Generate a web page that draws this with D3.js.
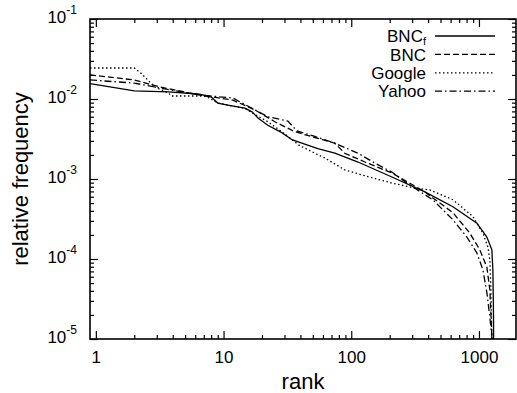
<!DOCTYPE html>
<html>
<head>
<meta charset="utf-8">
<script src="https://cdn.jsdelivr.net/npm/d3@7"></script>
<style>
  body { margin: 0; background: #fff; }
  svg { display: block; font-family: "Liberation Sans", Arial, sans-serif; }
</style>
</head>
<body>
<svg id="chart" width="517" height="393"></svg>
<script>
// [rank, relative frequency]
var bncF = [[0.9,0.0156],[2.0,0.0126],[3.7,0.0123],[6.3,0.01155],[7.95,0.0107],[9.0,0.0089],[10.8,0.0084],
  [14.7,0.0077],[16.7,0.0069],[18.6,0.0058],[22.2,0.0047],[28.6,0.0038],[34.3,0.0031],[41,0.0028],
  [54.7,0.0024],[74.4,0.0021],[113,0.00163],[208,0.00106],[377,0.00069],[625,0.00045],[964,0.00028],
  [1153,0.000188],[1262,0.00013],[1285,0.000073],[1300,0.00002],[1310,0.000001]];
var bnc = [[0.9,0.0200],[2.0,0.0173],[3.2,0.0141],[6.5,0.0112],[11.8,0.0097],[17.6,0.0073],[25.2,0.0052],
  [36.2,0.0039],[51.9,0.0033],[74.4,0.0028],[89,0.0021],[128,0.00163],[208,0.00119],[377,0.00069],
  [435,0.00058],[625,0.00038],[849,0.00021],[1016,0.00013],[1153,0.000079],[1217,0.000041],
  [1262,0.0000106],[1270,0.000001]];
var google = [[0.9,0.0244],[2.0,0.0244],[2.25,0.0211],[2.9,0.0141],[3.7,0.0119],[3.9,0.0109],[6.6,0.0109],
  [7.5,0.0106],[8.2,0.0097],[9.0,0.0089],[14.7,0.0076],[18.6,0.0061],[22.2,0.0052],[28.6,0.0039],
  [39.6,0.0026],[62,0.00183],[89,0.0013],[135,0.00107],[208,0.00089],[315,0.00077],[412,0.00073],
  [625,0.00055],[896,0.00034],[1074,0.00021],[1175,0.000141],[1217,0.000097],[1240,0.000041],
  [1262,0.0000106],[1270,0.000001]];
var yahoo = [[0.9,0.0173],[2.0,0.0158],[3.2,0.0137],[6.5,0.0112],[11.8,0.0103],[22.2,0.0060],[31.9,0.0053],
  [37.5,0.0040],[51.9,0.0034],[74.4,0.0028],[113,0.0021],[153,0.00158],[208,0.00122],[272,0.00089],
  [435,0.00055],[625,0.00031],[804,0.000188],[964,0.000119],[1074,0.000073],[1153,0.000038],
  [1217,0.0000188],[1262,0.0000106],[1270,0.000001]];

var seriesNames = ["BNC", "BNC", "Google", "Yahoo"];
var xMajor = [1, 10, 100, 1000];
var yMajor = [1e-5, 1e-4, 1e-3, 1e-2, 1e-1];

var svg = d3.select("#chart");
var margin = {left: 90, right: 1, top: 19, bottom: 54};
var W = 517 - margin.left - margin.right;
var H = 393 - margin.top - margin.bottom;

var x = d3.scaleLog().domain([0.9, 1950]).range([0, W]);
var y = d3.scaleLog().domain([1e-5, 1e-1]).range([H, 0]);

// minor ticks 2..9 in every decade
function minors(lo, hi) {
  var out = [];
  for (var e = lo; e < hi; e++) {
    for (var k = 2; k <= 9; k++) out.push(k * Math.pow(10, e));
  }
  return out;
}
var xMinor = minors(0, 4).filter(d => d < 1950);
var yMinor = minors(-5, -1);

var g = svg.append("g").attr("transform", "translate(" + margin.left + "," + margin.top + ")");

g.append("clipPath").attr("id", "clip")
  .append("rect").attr("width", W).attr("height", H);

// axes (ticks point inward, mirrored on all sides)
function styleAxis(sel) {
  sel.select(".domain").remove();
  sel.selectAll(".tick line").attr("stroke", "#000").attr("stroke-width", 1.2);
}

g.append("g").attr("transform", "translate(0," + H + ")")
  .call(d3.axisBottom(x).tickValues(xMinor).tickSize(-4).tickFormat(""))
  .call(styleAxis);
g.append("g")
  .call(d3.axisTop(x).tickValues(xMinor).tickSize(-4).tickFormat(""))
  .call(styleAxis);
g.append("g")
  .call(d3.axisTop(x).tickValues(xMajor).tickSize(-8).tickFormat(""))
  .call(styleAxis);
var xAx = g.append("g").attr("transform", "translate(0," + H + ")")
  .call(d3.axisBottom(x).tickValues(xMajor).tickSize(-8).tickPadding(12).tickFormat(d3.format("d")))
  .call(styleAxis);
xAx.selectAll("text").attr("font-size", 17).attr("fill", "#000")
  .attr("font-family", "Liberation Sans, Arial, sans-serif");

g.append("g")
  .call(d3.axisLeft(y).tickValues(yMinor).tickSize(-4).tickFormat(""))
  .call(styleAxis);
g.append("g").attr("transform", "translate(" + W + ",0)")
  .call(d3.axisRight(y).tickValues(yMinor).tickSize(-4).tickFormat(""))
  .call(styleAxis);
g.append("g").attr("transform", "translate(" + W + ",0)")
  .call(d3.axisRight(y).tickValues(yMajor).tickSize(-8).tickFormat(""))
  .call(styleAxis);
var yAx = g.append("g")
  .call(d3.axisLeft(y).tickValues(yMajor).tickSize(-8).tickPadding(13).tickFormat(""))
  .call(styleAxis);
yAx.selectAll(".tick text")
  .attr("font-family", "Liberation Sans, Arial, sans-serif")
  .attr("fill", "#000")
  .attr("dy", "0.36em")
  .each(function(d) {
    var t = d3.select(this);
    t.append("tspan").attr("font-size", 17).text("10");
    t.append("tspan").attr("font-size", 12).attr("dy", "-0.75em")
      .text(String(Math.round(Math.log10(d))));
  });

// frame
g.append("rect").attr("width", W).attr("height", H)
  .attr("fill", "none").attr("stroke", "#000").attr("stroke-width", 1.6);

// curves
var line = d3.line().x(d => x(d[0])).y(d => y(d[1]));
var dashes = [null, "6,3", "1.5,2.5", "7,3,1.5,3"];
var allSeries = [bncF, bnc, google, yahoo];

g.append("g").attr("clip-path", "url(#clip)")
  .selectAll("path").data(allSeries).join("path")
  .attr("d", line)
  .attr("fill", "none")
  .attr("stroke", "#000")
  .attr("stroke-width", 1.3)
  .attr("stroke-dasharray", (d, i) => dashes[i]);

// legend
var leg = g.append("g").attr("transform", "translate(" + (426 - margin.left) + "," + (36 - margin.top) + ")");
var rows = leg.selectAll("g").data(seriesNames).join("g")
  .attr("transform", (d, i) => "translate(0," + (i * 18.4) + ")");
rows.append("line")
  .attr("x1", 9).attr("x2", 69).attr("y1", 0).attr("y2", 0)
  .attr("stroke", "#000").attr("stroke-width", 1.3)
  .attr("stroke-dasharray", (d, i) => dashes[i]);
var lt = rows.append("text")
  .attr("text-anchor", "end").attr("font-size", 17).attr("dy", "0.36em");
lt.append("tspan").text(d => d);
lt.filter((d, i) => i === 0).append("tspan")
  .attr("font-size", 11).attr("dy", "0.25em").text("f");

// axis titles
svg.append("text")
  .attr("x", margin.left + W / 2).attr("y", 389)
  .attr("text-anchor", "middle").attr("font-size", 22).text("rank");
svg.append("text")
  .attr("transform", "translate(28," + (margin.top + H / 2) + ") rotate(-90)")
  .attr("text-anchor", "middle").attr("font-size", 22).text("relative frequency");
</script>
</body>
</html>
